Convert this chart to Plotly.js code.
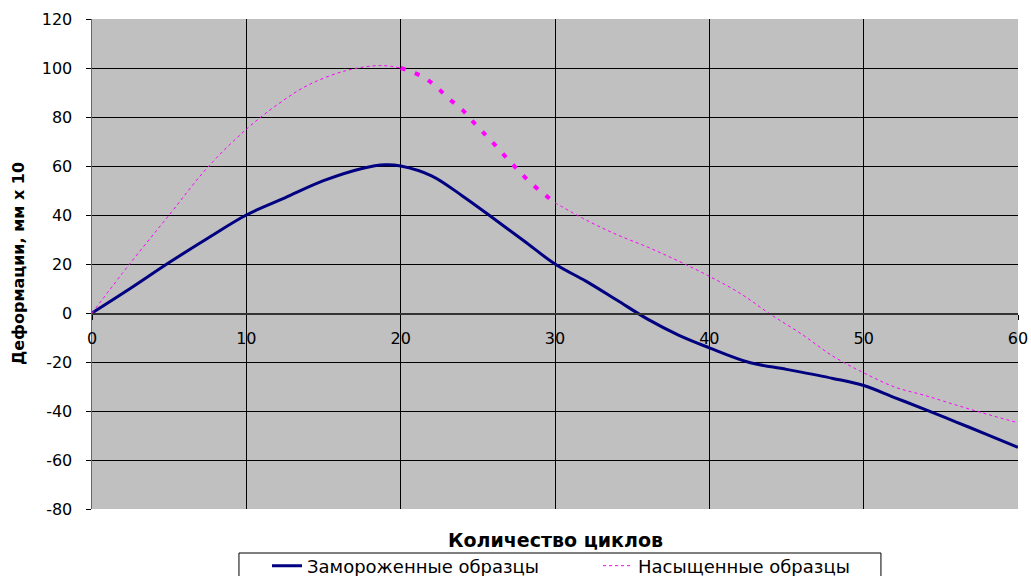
<!DOCTYPE html>
<html><head><meta charset="utf-8">
<script src="https://cdn.plot.ly/plotly-3.0.1.min.js"></script>
<style>html,body{margin:0;padding:0;background:#fff}#chart{width:1031px;height:576px}</style>
</head><body><div id="chart"></div>
<script>
// Замороженные образцы
const frozenX = [0, 2.5, 5, 7.5, 10, 12.5, 15, 17.5, 19, 20, 22, 24, 26, 28, 30, 32, 34, 36, 38, 40, 42.6, 45, 48, 50, 52, 54, 56, 58, 60];
const frozenY = [0, 10.1, 20.6, 30.5, 40, 47, 54, 59, 60.5, 60, 56, 47.8, 38.7, 29.4, 20, 13, 5.3, -2.5, -9, -14.2, -20.2, -23, -26.7, -29.6, -34.5, -39.4, -44.5, -49.6, -54.8];
// Насыщенные образцы (three segments)
const satX1 = [0, 2.5, 5, 7.5, 10, 12, 14, 16.5, 18.7, 20];
const satY1 = [0, 20.5, 40, 59.5, 75, 85, 93, 99, 101, 100];
const satX2 = [20, 21.4, 22.3, 23.1, 24, 24.7, 25.5, 26.2, 27, 27.7, 28.5, 29.4, 30];
const satY2 = [100, 96.5, 92.4, 87.6, 82.9, 78, 72.7, 68, 62.4, 57.7, 52.7, 48, 45];
const satX3 = [30, 32, 34, 36, 38, 40, 42, 44, 46, 48, 50, 52, 54, 56, 58, 60];
const satY3 = [45, 38, 32, 26.9, 21.2, 15, 8, -0.7, -8.7, -17.6, -24.4, -30.2, -33.7, -37.6, -41.3, -44.8];
const xTicks = [0, 10, 20, 30, 40, 50, 60];
const yTicks = [-80, -60, -40, -20, 0, 20, 40, 60, 80, 100, 120];
const names = ['Замороженные образцы', 'Насыщенные образцы'];
const xTitle = 'Количество циклов';
const yTitle = 'Деформации, мм x 10';

const F = 'DejaVu Sans, Arial, sans-serif';
const sm = 1.0;
const traces = [
  {x: frozenX, y: frozenY, mode: 'lines', name: names[0], line: {color: '#000080', width: 3, shape: 'spline', smoothing: sm}},
  {x: satX1, y: satY1, mode: 'lines', name: names[1], legendgroup: 's', line: {color: '#FF00FF', width: 1, dash: 'dot', shape: 'spline', smoothing: sm}},
  {x: satX2, y: satY2, mode: 'lines', name: names[1], legendgroup: 's', showlegend: false, line: {color: '#FF00FF', width: 4, dash: '5px,10px', shape: 'spline', smoothing: sm}},
  {x: satX3, y: satY3, mode: 'lines', name: names[1], legendgroup: 's', showlegend: false, line: {color: '#FF00FF', width: 1, dash: 'dot', shape: 'spline', smoothing: sm}}
];
const layout = {
  width: 1031, height: 576,
  margin: {l: 92, r: 13, t: 19, b: 67, autoexpand: false},
  paper_bgcolor: '#ffffff', plot_bgcolor: '#C0C0C0',
  font: {family: F, size: 16, color: '#000'},
  showlegend: true,
  legend: {orientation: 'h', x: 0.189, xanchor: 'left', y: -0.1163, yanchor: 'middle',
    borderwidth: 0, bgcolor: 'rgba(0,0,0,0)', font: {family: F, size: 18, color: '#000'},
    entrywidth: 286, itemwidth: 30, tracegroupgap: 0},
  xaxis: {range: [0, 60], tickvals: xTicks, ticktext: xTicks.map(String),
    anchor: 'free', position: 0.4, showgrid: true, gridcolor: '#000', gridwidth: 1,
    showline: true, linecolor: '#333', linewidth: 1.5, ticks: 'outside', ticklen: 5, tickcolor: '#000',
    tickfont: {family: F, size: 16}, ticklabelstandoff: 5, zeroline: false, fixedrange: true},
  yaxis: {range: [-80, 120], tickvals: yTicks, ticktext: yTicks.map(String), showgrid: true, gridcolor: '#000', gridwidth: 1,
    showline: true, linecolor: '#666', linewidth: 1.5, ticks: 'outside', ticklen: 5, tickcolor: '#000',
    tickfont: {family: F, size: 16}, zeroline: false, ticklabelstandoff: 10, fixedrange: true},
  shapes: [{type: 'rect', xref: 'paper', yref: 'paper', x0: 0.1587, x1: 0.852, y0: -0.0898, y1: -0.16,
    line: {color: '#000', width: 1}, fillcolor: '#fff', layer: 'below'}],
  annotations: [
    {text: xTitle, xref: 'paper', yref: 'paper', x: 0.5, y: -0.0633, xanchor: 'center', yanchor: 'middle',
      showarrow: false, font: {family: F, size: 19, weight: 'bold'}},
    {text: yTitle, xref: 'paper', yref: 'paper', x: -0.0799, y: 0.5, xanchor: 'center', yanchor: 'middle',
      textangle: -90, showarrow: false, font: {family: F, size: 16, weight: 'bold'}}
  ]
};
Plotly.newPlot('chart', traces, layout, {displayModeBar: false, staticPlot: true});
</script></body></html>
